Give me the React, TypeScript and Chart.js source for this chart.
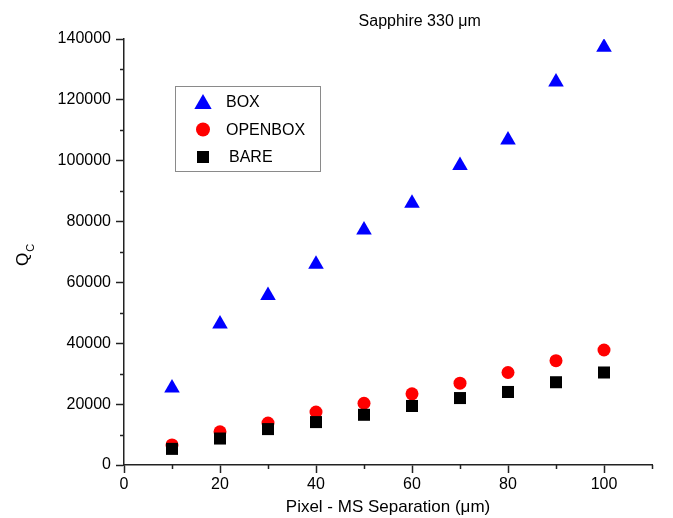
import React, { useEffect, useRef } from 'react';
import { Chart, registerables } from 'chart.js';

Chart.register(...registerables);

// ---- data ----
const separation = [10, 20, 30, 40, 50, 60, 70, 80, 90, 100];
const boxQ = [25300, 46300, 55700, 66000, 77200, 86000, 98400, 106800, 125900, 137300];
const openboxQ = [6600, 10900, 13800, 17400, 20300, 23400, 26900, 30400, 34300, 37800];
const bareQ = [5300, 8700, 11800, 14100, 16500, 19400, 22000, 24000, 27200, 30400];
const seriesNames = ['BOX', 'OPENBOX', 'BARE'];
const seriesColors = ['#0000FF', '#FF0000', '#000000'];
const seriesStyles = ['triangle', 'circle', 'rect'];
const seriesRadii = [9, 6.5, 8.5];
const chartTitle = 'Sapphire 330 \u03BCm';
const xTitle = 'Pixel - MS Separation (\u03BCm)';
const yTitleMain = 'Q';
const yTitleSub = 'C';

const FONT = '"Liberation Sans", Arial, sans-serif';
const AXIS = '#222222';

function drawMarker(ctx: CanvasRenderingContext2D, style: string, x: number, y: number, r: number) {
  ctx.beginPath();
  if (style === 'triangle') {
    let rad = 0;
    ctx.moveTo(x + Math.sin(rad) * r, y - Math.cos(rad) * r);
    rad += (2 * Math.PI) / 3;
    ctx.lineTo(x + Math.sin(rad) * r, y - Math.cos(rad) * r);
    rad += (2 * Math.PI) / 3;
    ctx.lineTo(x + Math.sin(rad) * r, y - Math.cos(rad) * r);
    ctx.closePath();
  } else if (style === 'circle') {
    ctx.arc(x, y, r, 0, Math.PI * 2);
  } else {
    const s = Math.SQRT1_2 * r;
    ctx.rect(x - s, y - s, 2 * s, 2 * s);
  }
  ctx.fill();
}

const decorPlugin = {
  id: 'decor',
  afterDraw(chart: any) {
    const ctx: CanvasRenderingContext2D = chart.ctx;
    const { left, bottom, top, right } = chart.chartArea;
    ctx.save();
    // minor ticks
    ctx.strokeStyle = AXIS;
    ctx.lineWidth = 1.5;
    const ys = chart.scales.y;
    ys.ticks.forEach((t: any) => {
      if (t.value % 20000 !== 0) {
        const py = Math.round(ys.getPixelForValue(t.value)) + 0.5;
        ctx.beginPath();
        ctx.moveTo(left - 4, py);
        ctx.lineTo(left, py);
        ctx.stroke();
      }
    });
    const xs = chart.scales.x;
    xs.ticks.forEach((t: any) => {
      if (t.value % 20 !== 0) {
        const px = Math.round(xs.getPixelForValue(t.value)) + 0.5;
        ctx.beginPath();
        ctx.moveTo(px, bottom);
        ctx.lineTo(px, bottom + 4);
        ctx.stroke();
      }
    });

    // title
    ctx.fillStyle = '#000';
    ctx.font = `16px ${FONT}`;
    ctx.textAlign = 'center';
    ctx.textBaseline = 'alphabetic';
    ctx.fillText(chartTitle, left + (right - left) * 0.56, top - 13);

    // y title with subscript
    ctx.save();
    ctx.translate(28, 266);
    ctx.rotate(-Math.PI / 2);
    ctx.textAlign = 'left';
    ctx.font = `17px ${FONT}`;
    ctx.fillText(yTitleMain, 0, 0);
    const qw = ctx.measureText(yTitleMain).width;
    ctx.font = `11px ${FONT}`;
    ctx.fillText(yTitleSub, qw + 1, 6);
    ctx.restore();

    // legend
    const lx = left + 51, ly = top + 47, lw = 145, lh = 85;
    ctx.strokeStyle = '#8a8a8a';
    ctx.lineWidth = 1;
    ctx.strokeRect(lx + 0.5, ly + 0.5, lw, lh);
    ctx.font = `16px ${FONT}`;
    ctx.textAlign = 'left';
    ctx.textBaseline = 'middle';
    const legendR = [10, 7, 8.5];
    for (let i = 0; i < seriesNames.length; i++) {
      const cy = ly + 16 + i * 27.5;
      ctx.fillStyle = seriesColors[i];
      drawMarker(ctx, seriesStyles[i], lx + 28, cy + (seriesStyles[i] === 'triangle' ? 2 : 0), legendR[i]);
      ctx.fillStyle = '#000';
      ctx.fillText(seriesNames[i], lx + 51 + (i === 2 ? 3 : 0), cy + 1);
    }
    ctx.restore();
  },
};

export default function App() {
  const ref = useRef<HTMLCanvasElement | null>(null);
  useEffect(() => {
    if (!ref.current) return;
    const series = [boxQ, openboxQ, bareQ];
    const chart = new Chart(ref.current, {
      type: 'scatter',
      data: {
        datasets: series.map((vals, i) => ({
          label: seriesNames[i],
          data: separation.map((x, j) => ({ x, y: vals[j] })),
          pointStyle: seriesStyles[i] as any,
          pointRadius: seriesRadii[i],
          pointHoverRadius: seriesRadii[i],
          backgroundColor: seriesColors[i],
          borderColor: seriesColors[i],
          pointBorderWidth: 0,
          showLine: false,
          order: 2 - i,
        })),
      },
      options: {
        animation: false,
        responsive: false,
        devicePixelRatio: 1,
        layout: { padding: { left: 0, right: 21, top: 39, bottom: 0 } },
        plugins: { legend: { display: false }, title: { display: false }, tooltip: { enabled: false } },
        scales: {
          x: {
            type: 'linear',
            min: 0,
            max: 110,
            afterFit: (s: any) => { s.height = 53; },
            ticks: {
              stepSize: 10,
              autoSkip: false,
              maxRotation: 0,
              padding: 2,
              color: '#000',
              font: { family: FONT, size: 16 },
              callback: (v: any) => (Number(v) % 20 === 0 ? String(v) : ''),
            },
            grid: {
              drawOnChartArea: false,
              tickLength: 8,
              tickWidth: 1.5,
              tickColor: (c: any) => (c.tick && c.tick.value % 20 === 0 ? AXIS : 'rgba(0,0,0,0)'),
            },
            border: { display: true, color: AXIS, width: 1.5 },
            title: { display: true, text: xTitle, color: '#000', font: { family: FONT, size: 17 }, padding: { top: 0, bottom: 0 } },
          },
          y: {
            type: 'linear',
            min: 0,
            max: 140000,
            afterFit: (s: any) => { s.width = 124; },
            ticks: {
              stepSize: 10000,
              autoSkip: false,
              padding: 5,
              color: '#000',
              font: { family: FONT, size: 16 },
              callback: (v: any) => (Number(v) % 20000 === 0 ? String(v) : ''),
            },
            grid: {
              drawOnChartArea: false,
              tickLength: 8,
              tickWidth: 1.5,
              tickColor: (c: any) => (c.tick && c.tick.value % 20000 === 0 ? AXIS : 'rgba(0,0,0,0)'),
            },
            border: { display: true, color: AXIS, width: 1.5 },
          },
        },
      },
      plugins: [decorPlugin],
    });
    return () => chart.destroy();
  }, []);
  return (
    <div style={{ position: 'fixed', left: 0, top: 0, width: 673, height: 518, background: '#fff' }}>
      <canvas ref={ref} width={673} height={518} style={{ display: 'block' }} />
    </div>
  );
}
